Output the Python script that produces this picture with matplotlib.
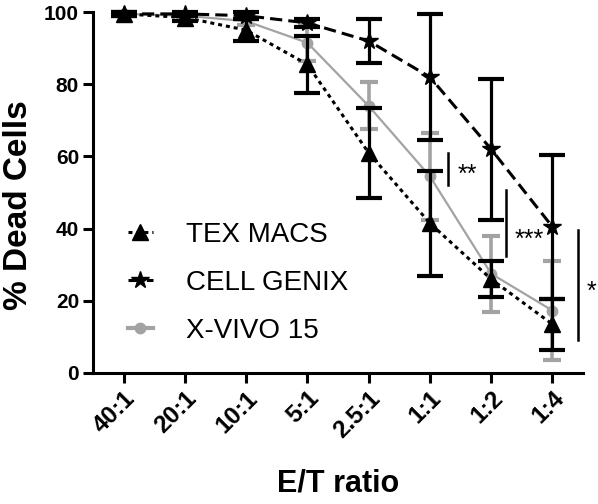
import matplotlib
matplotlib.use("Agg")
import matplotlib.pyplot as plt
import numpy as np
from matplotlib.lines import Line2D

plt.rcParams['font.family'] = ['Liberation Sans', 'DejaVu Sans']

# categories
ratios = ["40:1", "20:1", "10:1", "5:1", "2.5:1", "1:1", "1:2", "1:4"]

# % dead cells, mean and error
tex_mean = [99.5, 98.5, 95, 85.5, 61, 41.5, 26, 13.5]
tex_err = [0.5, 1, 3, 8, 12.5, 14.5, 5, 7]
cg_mean = [99.5, 99.5, 99, 97, 92, 82, 62, 40.5]
cg_err = [0.5, 0.5, 1, 1, 6, 17.5, 19.5, 20]
xv_mean = [99.5, 99, 97.5, 91.5, 74, 54.5, 27.5, 17.3]
xv_err = [0.5, 0.5, 1, 5, 6.5, 12, 10.5, 13.7]

# significance brackets
sig_x = [5.3, 6.24, 7.41]
sig_lo = [52, 32.4, 9.1]
sig_hi = [61, 50.7, 39.6]
sig_ty = [55, 37, 22.5]
sig_text = ["**", "***", "*"]

gray = '#a3a3a3'
dotted = (0, (1.3, 1.3))
dashed = (0, (4, 2))
x = np.arange(len(ratios))

fig = plt.figure(figsize=(5.98, 5.04), dpi=100)
ax = fig.add_axes([0.1555, 0.26, 0.8195, 0.716])

# X-VIVO 15 (gray, below the black ones)
ax.errorbar(x, xv_mean, yerr=xv_err, color=gray, ecolor=gray, lw=1.6, elinewidth=2.6,
            capsize=6.5, capthick=3, marker='o', ms=7.5, zorder=2, clip_on=False)
# TEX MACS
ax.errorbar(x, tex_mean, yerr=tex_err, color='black', lw=2.2, ls=dotted,
            elinewidth=2.3, capsize=9.5, capthick=3, marker='^', ms=11, zorder=3, clip_on=False)
# CELL GENIX
ax.errorbar(x, cg_mean, yerr=cg_err, color='black', lw=2.2, ls=dashed,
            elinewidth=2.3, capsize=9.5, capthick=3, marker='*', ms=13, zorder=4, clip_on=False)

for sx, lo, hi, ty, t in zip(sig_x, sig_lo, sig_hi, sig_ty, sig_text):
    ax.plot([sx, sx], [lo, hi], color='black', lw=1.8, clip_on=False)
    ax.text(sx + 0.15, ty, t, fontsize=18, ha='left', va='center', clip_on=False)

ax.set_xlim(-0.5, 7.5)
ax.set_ylim(0, 100)
ax.set_xticks(x)
ax.set_xticklabels(ratios, rotation=45, ha='right', rotation_mode='anchor',
                   fontsize=17.5, fontweight='bold')
ax.set_yticks([0, 20, 40, 60, 80, 100])
ax.set_yticklabels(['0', '20', '40', '60', '80', '100'], fontsize=15, fontweight='bold')
for s in ['top', 'right']:
    ax.spines[s].set_visible(False)
for s in ['left', 'bottom']:
    ax.spines[s].set_linewidth(2.2)
ax.tick_params(axis='both', width=2.2, length=7, pad=3)

ax.set_ylabel('% Dead Cells', fontsize=24, fontweight='bold')
ax.yaxis.set_label_coords(-0.12, 0.465)
ax.set_xlabel('E/T ratio', fontsize=22, fontweight='bold', labelpad=19)

handles = [
    Line2D([], [], color='black', lw=2.2, ls=dotted, marker='^', ms=11),
    Line2D([], [], color='black', lw=2.2, ls=dashed, marker='*', ms=13),
    Line2D([], [], color=gray, lw=3, marker='o', ms=7.5),
]
ax.legend(handles, ['TEX MACS', 'CELL GENIX', 'X-VIVO 15'], loc='upper left',
          bbox_to_anchor=(0.02, 0.487), frameon=False, fontsize=20,
          handlelength=0.9, handletextpad=1.2, labelspacing=0.78)

fig.savefig('out.png', dpi=100)
